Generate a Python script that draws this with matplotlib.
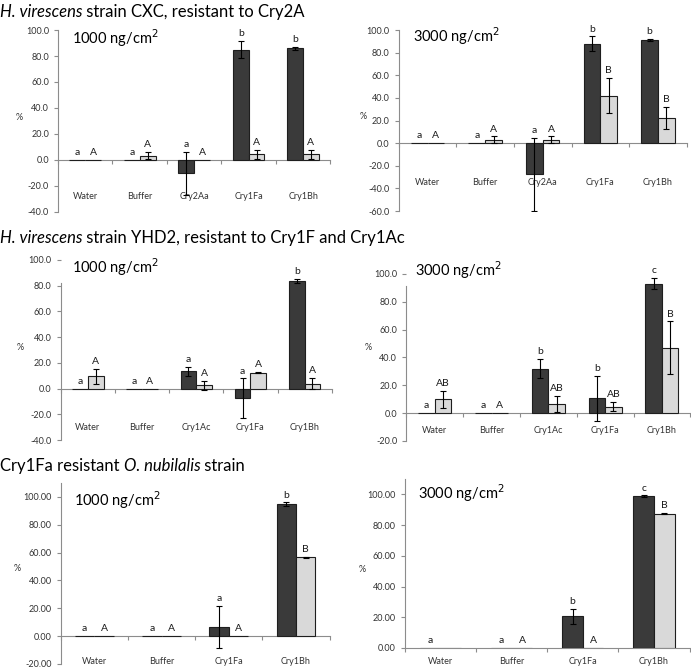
import matplotlib.pyplot as plt
import numpy as np

plt.rcParams['font.family'] = ['Lato', 'DejaVu Sans']

# H. virescens CXC
cxc_toxins = ['Water', 'Buffer', 'Cry2Aa', 'Cry1Fa', 'Cry1Bh']
cxc1000_dark = [0, 0, -10.5, 85.0, 85.8]
cxc1000_dark_err = [0, 0, 16.5, 6.5, 1.0]
cxc1000_light = [0, 3.2, 0, 4.3, 4.3]
cxc1000_light_err = [0, 2.8, 0, 3.5, 3.5]
cxc1000_dark_let = ['a', 'a', 'a', 'b', 'b']
cxc1000_light_let = ['A', 'A', 'A', 'A', 'A']

cxc3000_dark = [0, 0, -27.5, 88.0, 91.0]
cxc3000_dark_err = [0, 0, 32.0, 6.4, 1.0]
cxc3000_light = [0, 3.0, 3.0, 42.0, 22.0]
cxc3000_light_err = [0, 3.0, 3.0, 15.5, 9.8]
cxc3000_dark_let = ['a', 'a', 'a', 'b', 'b']
cxc3000_light_let = ['A', 'A', 'A', 'B', 'B']

# H. virescens YHD2
yhd_toxins = ['Water', 'Buffer', 'Cry1Ac', 'Cry1Fa', 'Cry1Bh']
yhd1000_dark = [0, 0, 13.6, -7.2, 83.8]
yhd1000_dark_err = [0, 0, 3.5, 15.2, 1.7]
yhd1000_light = [9.5, 0, 2.6, 12.3, 3.8]
yhd1000_light_err = [5.5, 0, 3.6, 0.4, 4.3]
yhd1000_dark_let = ['a', 'a', 'a', 'a', 'b']
yhd1000_light_let = ['A', 'A', 'A', 'A', 'A']

yhd3000_dark = [0, 0, 31.8, 10.6, 93.0]
yhd3000_dark_err = [0, 0, 6.8, 16.0, 4.0]
yhd3000_light = [9.9, 0, 6.8, 4.7, 46.8]
yhd3000_light_err = [6.2, 0, 5.8, 3.5, 19.0]
yhd3000_dark_let = ['a', 'a', 'b', 'b', 'c']
yhd3000_light_let = ['AB', 'A', 'AB', 'AB', 'B']

# O. nubilalis
onu_toxins = ['Water', 'Buffer', 'Cry1Fa', 'Cry1Bh']
onu1000_dark = [0, 0, 6.6, 94.8]
onu1000_dark_err = [0, 0, 15.0, 1.2]
onu1000_light = [0, 0, 0, 56.5]
onu1000_light_err = [0, 0, 0, 0.3]
onu1000_dark_let = ['a', 'a', 'a', 'b']
onu1000_light_let = ['A', 'A', 'A', 'B']

onu3000_dark = [0, 0, 20.6, 98.8]
onu3000_dark_err = [0, 0, 5.0, 0.5]
onu3000_light = [0, 0, 0, 87.5]
onu3000_light_err = [0, 0, 0, 0.3]
onu3000_dark_let = ['a', 'a', 'b', 'c']
onu3000_light_let = ['', 'A', 'A', 'B']

GRAY = '#8c8c8c'
DARK = '#3a3a3a'
LIGHT = '#d9d9d9'


def draw_panel(ax, cats, dark, dark_err, light, light_err, dlet, llet,
               ylim, ystep, fmt, dose, dose_xy, lab_y, ylab_xy, spine_top=None):
    n = len(cats)
    x = np.arange(n)
    w = 0.29
    for off, vals, errs, col, lets in [(-w / 2, dark, dark_err, DARK, dlet),
                                       (w / 2, light, light_err, LIGHT, llet)]:
        vals = np.array(vals, float)
        errs = np.array(errs, float)
        ax.bar(x + off, vals, w, color=col, edgecolor='#1e1e1e', linewidth=0.8, zorder=3)
        m = errs > 0
        ax.errorbar(x[m] + off, vals[m], yerr=errs[m], fmt='none', ecolor='black',
                    elinewidth=0.8, capsize=2.5, capthick=0.8, zorder=4)
        for i in range(n):
            if lets[i]:
                top = max(vals[i] + errs[i], 0)
                ax.annotate(lets[i], (x[i] + off, top), xytext=(0, 3.5),
                            textcoords='offset points', ha='center', va='baseline',
                            fontsize=7.5, color='#1a1a1a')
    ax.set_xlim(-0.5, n - 0.5)
    ax.set_ylim(*ylim)
    ax.set_yticks(np.arange(ylim[0] if ylim[0] % ystep == 0 else 0, 100.1, ystep))
    ax.set_yticklabels([fmt % v for v in ax.get_yticks()])
    # tick marks between categories, on the zero line
    ax.set_xticks(np.arange(n + 1) - 0.5)
    ax.set_xticklabels([])
    ax.spines['bottom'].set_position(('data', 0))
    ax.spines['top'].set_visible(False)
    ax.spines['right'].set_visible(False)
    for s in ['left', 'bottom']:
        ax.spines[s].set_color(GRAY)
        ax.spines[s].set_linewidth(0.8)
    if spine_top is not None:
        ax.spines['left'].set_bounds(ylim[0], spine_top)
    ax.tick_params(axis='both', colors=GRAY, length=3, width=0.8, labelsize=6.5,
                   labelcolor='#333333')
    for i, c in enumerate(cats):
        ax.text(i, lab_y, c, ha='center', va='center', fontsize=6.5,
                color='#333333', clip_on=False)
    ax.text(dose_xy[0], dose_xy[1], dose, transform=ax.transAxes, ha='left',
            va='center', fontsize=10.5)
    ax.set_ylabel('%', rotation=0, fontsize=6.5, color='#333333')
    ax.yaxis.set_label_coords(*ylab_xy)


fig = plt.figure(figsize=(6.91, 6.68), dpi=100)

ax1 = fig.add_axes([0.084, 0.683, 0.394, 0.272])
draw_panel(ax1, cxc_toxins, cxc1000_dark, cxc1000_dark_err, cxc1000_light, cxc1000_light_err,
           cxc1000_dark_let, cxc1000_light_let, (-40, 100), 20, '%.1f',
           '1000 ng/cm$^2$', (0.05, 0.955), -28.5, (-0.143, 0.495))

ax2 = fig.add_axes([0.577, 0.684, 0.417, 0.271])
draw_panel(ax2, cxc_toxins, cxc3000_dark, cxc3000_dark_err, cxc3000_light, cxc3000_light_err,
           cxc3000_dark_let, cxc3000_light_let, (-60, 100), 20, '%.1f',
           '3000 ng/cm$^2$', (0.05, 0.965), -34.4, (-0.125, 0.497))

ax3 = fig.add_axes([0.088, 0.341, 0.392, 0.27])
draw_panel(ax3, yhd_toxins, yhd1000_dark, yhd1000_dark_err, yhd1000_light, yhd1000_light_err,
           yhd1000_dark_let, yhd1000_light_let, (-40, 100), 20, '%.1f',
           '1000 ng/cm$^2$', (0.04, 0.96), -29.9, (-0.151, 0.49), spine_top=82)

ax4 = fig.add_axes([0.588, 0.34, 0.411, 0.25])
draw_panel(ax4, yhd_toxins, yhd3000_dark, yhd3000_dark_err, yhd3000_light, yhd3000_light_err,
           yhd3000_dark_let, yhd3000_light_let, (-20, 100), 20, '%.1f',
           '3000 ng/cm$^2$', (0.032, 1.02), -12.8, (-0.134, 0.533), spine_top=91)

ax5 = fig.add_axes([0.088, 0.006, 0.389, 0.271])
draw_panel(ax5, onu_toxins, onu1000_dark, onu1000_dark_err, onu1000_light, onu1000_light_err,
           onu1000_dark_let, onu1000_light_let, (-20, 110), 20, '%.2f',
           '1000 ng/cm$^2$', (0.048, 0.905), -17.9, (-0.164, 0.503))

ax6 = fig.add_axes([0.586, 0.03, 0.412, 0.253])
draw_panel(ax6, onu_toxins, onu3000_dark, onu3000_dark_err, onu3000_light, onu3000_light_err,
           onu3000_dark_let, onu3000_light_let, (0, 110), 20, '%.2f',
           '3000 ng/cm$^2$', (0.046, 0.915), -8.5, (-0.151, 0.438))


def heading(y, parts):
    # chain text pieces so italic species names sit inline
    prev = None
    for txt, it in parts:
        style = 'italic' if it else 'normal'
        if prev is None:
            prev = fig.text(0.0, y, txt, fontsize=12, style=style, va='bottom', ha='left')
        else:
            prev = fig.add_artist(plt.Annotation(txt, xy=(1, 0), xycoords=prev,
                                                 fontsize=12, style=style,
                                                 va='bottom', ha='left'))


heading(0.97, [('H. virescens', True), (' strain CXC, resistant to Cry2A', False)])
heading(0.631, [('H. virescens', True), (' strain YHD2, resistant to Cry1F and Cry1Ac', False)])
heading(0.29, [('Cry1Fa resistant ', False), ('O. nubilalis', True), (' strain', False)])

fig.savefig('out.png', dpi=100)
